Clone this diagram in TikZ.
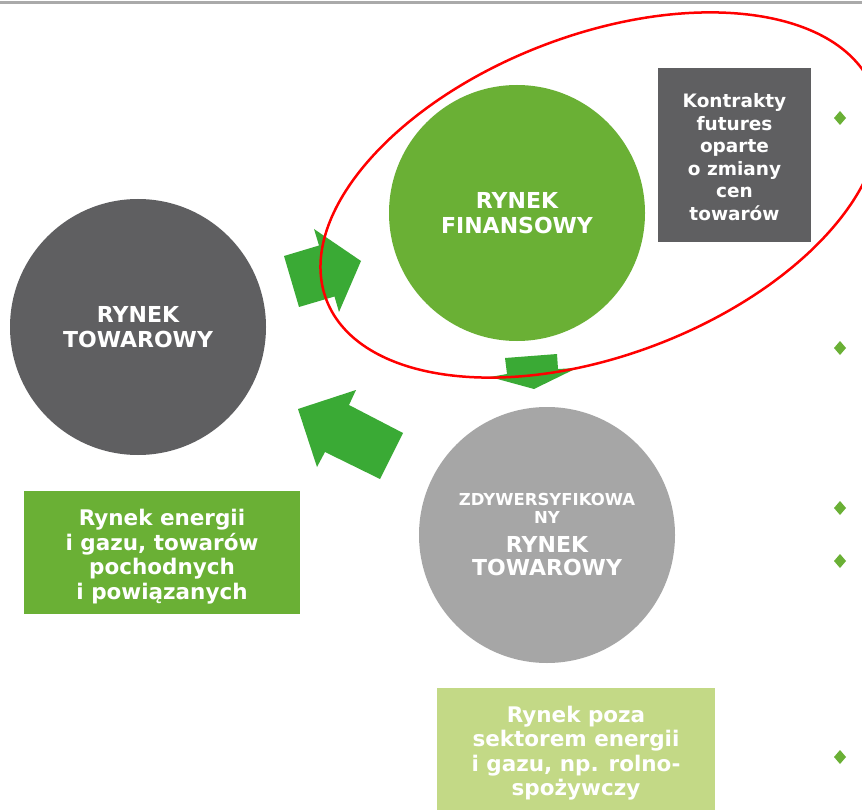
\documentclass[tikz,border=0pt]{standalone}
\usepackage{fontspec}
\setmainfont{DejaVu Sans}
\definecolor{dgray}{RGB}{95,95,97}
\definecolor{lgray}{RGB}{166,166,166}
\definecolor{mgreen}{RGB}{106,176,53}
\definecolor{agreen}{RGB}{58,170,53}
\definecolor{pgreen}{RGB}{195,217,134}
\definecolor{topline}{RGB}{170,170,170}
\begin{document}
\begin{tikzpicture}[x=1pt,y=-1pt,
  bigcirc/.style={circle,inner sep=0pt,minimum size=256pt,text=white,align=center,font=\bfseries\fontsize{22}{25}\selectfont},
  box/.style={rectangle,inner sep=0pt},
  boxtext/.style={text=white,align=center,inner sep=0pt},
  blockarrow/.style={fill=agreen,draw=none},
  bullet/.style={fill=mgreen,draw=none}]
\useasboundingbox (0,0) rectangle (862,810);
\fill[white] (0,0) rectangle (862,810);
\draw[topline,line width=3pt] (0,3) -- (862,3);
% circles
\node[bigcirc,fill=dgray] (tow) at (138,327) {RYNEK\\TOWAROWY};
\node[bigcirc,fill=mgreen] (fin) at (517,213) {RYNEK\\FINANSOWY};
\node[bigcirc,fill=lgray] (zdy) at (547,535) {};
\node[text=white,align=center,font=\bfseries\fontsize{16.5}{18}\selectfont] (zdyA) at (547,508) {ZDYWERSYFIKOWA\\NY};
\node[text=white,align=center,font=\bfseries\fontsize{22}{23}\selectfont] (zdyB) at (547,556) {RYNEK\\TOWAROWY};
% boxes
\node[box,fill=dgray,minimum width=153pt,minimum height=174pt] (fut) at (734.5,155) {};
\node[boxtext,font=\bfseries\fontsize{18.5}{22.5}\selectfont] (futT) at (734.5,157) {Kontrakty\\futures\\oparte\\o zmiany\\cen\\towarów};
\node[box,fill=mgreen,minimum width=276pt,minimum height=123pt] (ene) at (162,552.5) {};
\node[boxtext,font=\bfseries\fontsize{21.5}{24.5}\selectfont] (eneT) at (162,556.5) {Rynek energii\\i gazu, towarów\\pochodnych\\i powiązanych};
\node[box,fill=pgreen,minimum width=278pt,minimum height=122pt] (poza) at (576,749) {};
\node[boxtext,font=\bfseries\fontsize{21.5}{24.5}\selectfont] (pozaT) at (576,753) {Rynek poza\\sektorem energii\\i gazu, np. rolno-\\spożywczy};
% block arrows
\fill[blockarrow] (284,256) -- (319,245.5) -- (314,229) -- (361,261) -- (339,312) -- (334.5,296.5) -- (299,307) -- cycle;
\fill[blockarrow] (505,358) -- (557,354) -- (558,369) -- (577,368) -- (534,389) -- (490,377) -- (507,374) -- cycle;
\fill[blockarrow] (298,409) -- (356,390) -- (349,405) -- (403,433) -- (380,479) -- (325,452) -- (317,467) -- cycle;
% bullets
\foreach \yy in {118,348,508,561,757}
  \fill[bullet] (840,\yy-7) -- (846,\yy) -- (840,\yy+7) -- (834,\yy) -- cycle;
% red ellipse
\draw[red,line width=2.5pt] (600,195) ellipse [x radius=293,y radius=160,rotate=21];
\end{tikzpicture}
\end{document}
